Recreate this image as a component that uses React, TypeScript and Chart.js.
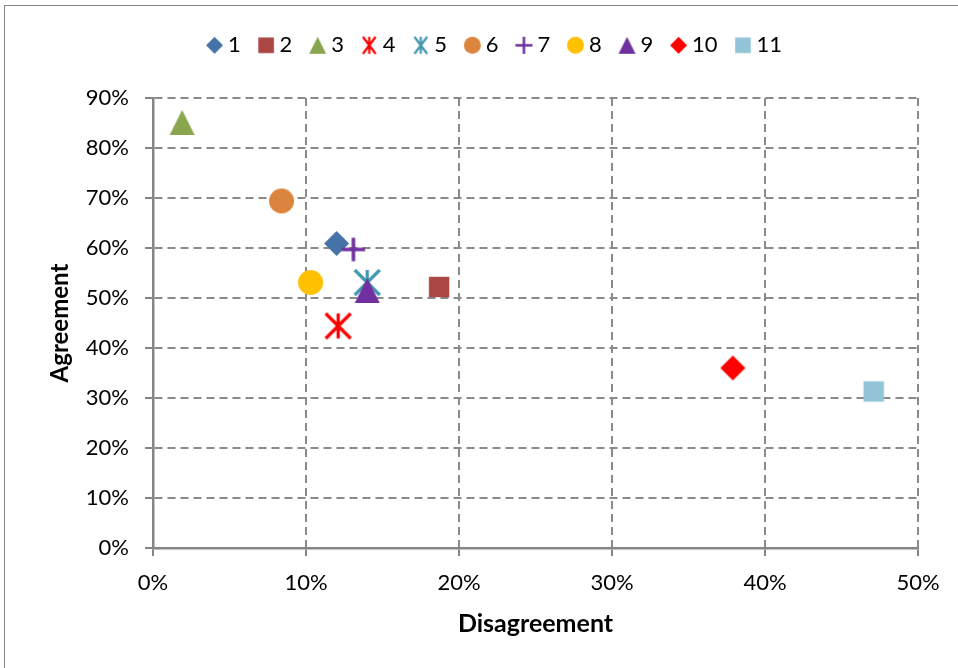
import React, { useEffect, useRef } from 'react';
import { Chart, registerables } from 'chart.js';

Chart.register(...registerables);

// ---------- data ----------
const seriesLabels = ['1', '2', '3', '4', '5', '6', '7', '8', '9', '10', '11'];
const disagreementPct = [12.0, 18.7, 1.9, 12.1, 14.0, 8.4, 13.1, 10.3, 14.0, 37.9, 47.1];
const agreementPct = [60.9, 52.2, 85.1, 44.4, 53.1, 69.4, 59.7, 53.1, 51.5, 36.0, 31.3];
const seriesColors = ['#4572A7', '#AA4643', '#89A54E', '#FF0000', '#4198AF', '#DB843D', '#7030A0', '#FFC000', '#7030A0', '#FF0000', '#93C3D6'];
const seriesMarkers = ['diamond', 'square', 'triangle', 'asterisk', 'asterisk', 'circle', 'plus', 'circle', 'triangle', 'diamond', 'square'];
const xTickLabels = ['0%', '10%', '20%', '30%', '40%', '50%'];
const yTickLabels = ['0%', '10%', '20%', '30%', '40%', '50%', '60%', '70%', '80%', '90%'];
const xTitle = 'Disagreement';
const yTitle = 'Agreement';

// ---------- styling ----------
const FONT = 'Lato';
const GRID_COLOR = '#8a8a8a';
const AXIS_COLOR = '#858585';
const LEGEND_TOP = 11.5;
const LEGEND_HEIGHT = 86.5;
const LEGEND_SHIFT = 38;

function makeMarker(kind: string, color: string, size: number, narrow = 1): HTMLCanvasElement {
  const pad = 3;
  const dim = Math.ceil(size + pad * 2);
  const c = document.createElement('canvas');
  c.width = dim;
  c.height = dim;
  const ctx = c.getContext('2d') as CanvasRenderingContext2D;
  const cx = dim / 2;
  const cy = dim / 2;
  const h = size / 2;
  ctx.fillStyle = color;
  ctx.strokeStyle = color;
  ctx.beginPath();
  if (kind === 'diamond') {
    ctx.moveTo(cx, cy - h);
    ctx.lineTo(cx + h, cy);
    ctx.lineTo(cx, cy + h);
    ctx.lineTo(cx - h, cy);
    ctx.closePath();
    ctx.fill();
  } else if (kind === 'square') {
    const s = h * 0.8;
    ctx.rect(cx - s, cy - s, 2 * s, 2 * s);
    ctx.fill();
  } else if (kind === 'triangle') {
    ctx.moveTo(cx, cy - h);
    ctx.lineTo(cx + h, cy + h);
    ctx.lineTo(cx - h, cy + h);
    ctx.closePath();
    ctx.fill();
  } else if (kind === 'circle') {
    ctx.arc(cx, cy, h, 0, Math.PI * 2);
    ctx.fill();
  } else if (kind === 'asterisk') {
    ctx.lineWidth = Math.max(2, size * 0.13);
    const w = h * narrow;
    ctx.moveTo(cx, cy - h);
    ctx.lineTo(cx, cy + h);
    ctx.moveTo(cx - w, cy - h);
    ctx.lineTo(cx + w, cy + h);
    ctx.moveTo(cx + w, cy - h);
    ctx.lineTo(cx - w, cy + h);
    ctx.stroke();
  } else if (kind === 'plus') {
    ctx.lineWidth = Math.max(2, size * 0.15);
    ctx.moveTo(cx, cy - h);
    ctx.lineTo(cx, cy + h);
    ctx.moveTo(cx - h, cy);
    ctx.lineTo(cx + h, cy);
    ctx.stroke();
  }
  return c;
}

export default function App() {
  const canvasRef = useRef<HTMLCanvasElement>(null);

  useEffect(() => {
    const canvas = canvasRef.current;
    if (!canvas) return;

    const chartMarkers = seriesMarkers.map((k, i) => makeMarker(k, seriesColors[i], k === 'square' ? 25.5 : k === 'plus' ? 23.5 : 25));
    const legendMarkers = seriesMarkers.map((k, i) => makeMarker(k, seriesColors[i], k === 'square' ? 19.5 : 17, 0.75));

    const legendTweak = {
      id: 'legendTweak',
      beforeInit(chart: any) {
        const lg = chart.legend;
        if (!lg) return;
        const orig = lg.fit;
        lg.fit = function () {
          orig.call(this);
          this.height = LEGEND_HEIGHT;
        };
      },
      afterLayout(chart: any) {
        const lg = chart.legend;
        if (!lg) return;
        lg.left += LEGEND_SHIFT;
        lg.right += LEGEND_SHIFT;
      },
    };

    const axisCommon = (title: string, titleSize: number, titlePad: any, labels: string[]) => ({
      type: 'linear' as const,
      ticks: {
        stepSize: 10,
        color: '#000',
        font: { family: FONT, size: 22 },
        callback: (_v: any, i: number) => labels[i],
      },
      grid: {
        color: GRID_COLOR,
        lineWidth: 2,
        tickLength: 8,
        tickColor: AXIS_COLOR,
        tickWidth: 2,
      },
      border: { display: true, color: AXIS_COLOR, width: 2.5, dash: [8, 5] },
      title: {
        display: true,
        text: title,
        color: '#000',
        font: { family: FONT, size: titleSize, weight: 'bold' as const },
        padding: titlePad,
      },
    });

    const xAxis: any = axisCommon(xTitle, 25, { top: 0, bottom: 29.5 }, xTickLabels);
    xAxis.min = 0;
    xAxis.max = 50;
    xAxis.position = 'bottom';
    xAxis.ticks.padding = 14;
    xAxis.afterFit = (s: any) => {
      s.height = 120;
    };

    const yAxis: any = axisCommon(yTitle, 24, { top: 45.6, bottom: 0 }, yTickLabels);
    yAxis.min = 0;
    yAxis.max = 90;
    yAxis.position = 'left';
    yAxis.ticks.padding = 16;
    yAxis.afterFit = (s: any) => {
      s.width = 153;
    };

    const chart = new Chart(canvas, {
      type: 'scatter',
      data: {
        datasets: seriesLabels.map((label, i) => ({
          label,
          data: [{ x: disagreementPct[i], y: agreementPct[i] }],
          pointStyle: chartMarkers[i] as any,
          pointRadius: 12,
          backgroundColor: seriesColors[i],
          borderColor: seriesColors[i],
          order: seriesLabels.length - i,
        })),
      },
      options: {
        responsive: false,
        animation: false,
        events: [],
        layout: { padding: { left: 0, right: 40, top: LEGEND_TOP, bottom: 0 } },
        scales: { x: xAxis, y: yAxis },
        plugins: {
          tooltip: { enabled: false },
          legend: {
            display: true,
            position: 'top',
            labels: {
              usePointStyle: true,
              boxWidth: 5,
              padding: 22.8,
              color: '#000',
              font: { family: FONT, size: 22 },
              generateLabels: () =>
                seriesLabels.map((text, i) => ({
                  text,
                  pointStyle: legendMarkers[i] as any,
                  datasetIndex: i,
                  fillStyle: seriesColors[i],
                  strokeStyle: seriesColors[i],
                  fontColor: '#000',
                  lineWidth: 0,
                  hidden: false,
                })),
            },
          },
        },
      } as any,
      plugins: [legendTweak as any],
    });

    return () => chart.destroy();
  }, []);

  return (
    <div style={{ position: 'absolute', left: 0, top: 0, width: 958, height: 668, overflow: 'hidden', background: '#fff' }}>
      <div
        style={{
          position: 'absolute',
          left: 4,
          top: 5,
          width: 1200,
          height: 1200,
          borderLeft: '1px solid #868686',
          borderTop: '1px solid #868686',
        }}
      />
      <canvas ref={canvasRef} width={958} height={668} style={{ position: 'absolute', left: 0, top: 0, width: 958, height: 668 }} />
    </div>
  );
}
